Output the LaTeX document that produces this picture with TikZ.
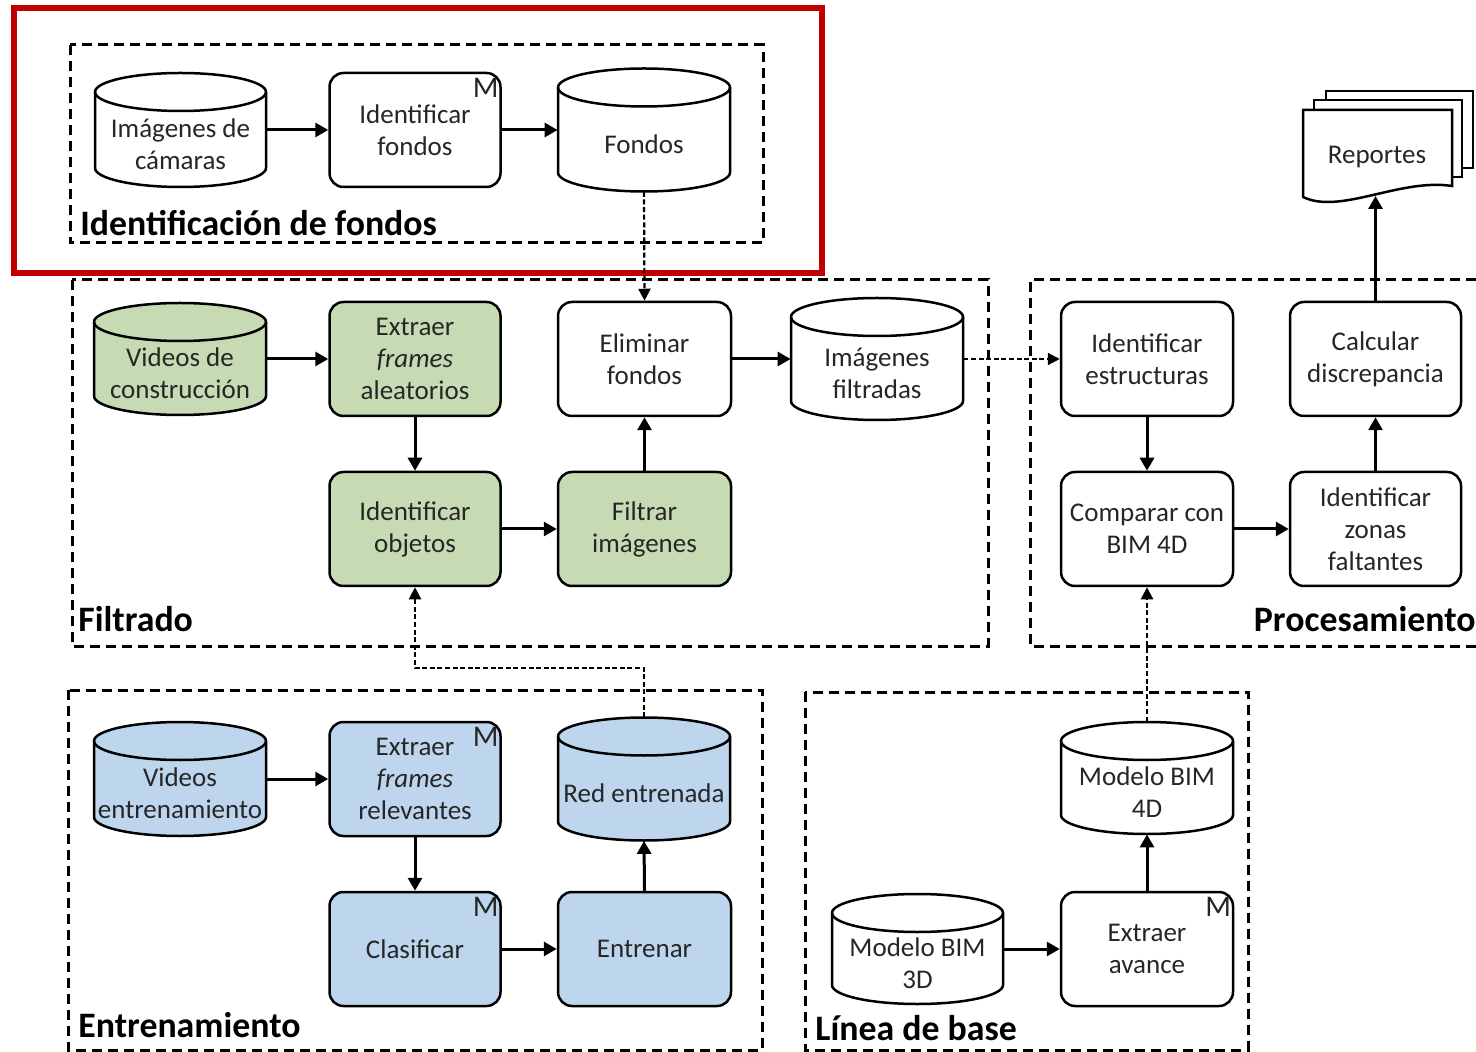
\documentclass[tikz,border=0pt]{standalone}
\usepackage{fontspec}
\setmainfont{Carlito}
\usetikzlibrary{arrows.meta}
\definecolor{grn}{HTML}{C6DBB4}
\definecolor{blu}{HTML}{BDD6EE}
\definecolor{redframe}{HTML}{C00000}
\definecolor{txt}{HTML}{262626}
\newcommand\mkcyl[7]{%
  \path[cylline,fill=#6] ({#2-#4/2},{#3-#5/2+19}) -- ({#2-#4/2},{#3+#5/2-19})
     arc[start angle=180,end angle=360,x radius=#4*0.25pt,y radius=9.5pt]
     -- ({#2+#4/2},{#3-#5/2+19})
     arc[start angle=0,end angle=180,x radius=#4*0.25pt,y radius=9.5pt] -- cycle;
  \draw[cylline] ({#2-#4/2},{#3-#5/2+19}) arc[start angle=180,end angle=360,x radius=#4*0.25pt,y radius=9.5pt];
  \node[cylshape,minimum width=#4*0.5pt,minimum height=#5*0.5pt] (#1) at (#2,#3) {};
  \node[txtsty] (#1-t) at (#2,{#3+14}) {#7};
}
\begin{document}
\begin{tikzpicture}[x=0.5pt,y=-0.5pt,
  txtsty/.style={align=center,font=\fontsize{13.5}{16}\selectfont,text=txt,inner sep=0pt},
  box/.style={txtsty,draw=black,line width=1.25pt,rounded corners=7pt,minimum width=85.5pt,minimum height=57pt},
  cylline/.style={draw=black,line width=1.25pt},
  cylshape/.style={draw=none,inner sep=0pt},
  mk/.style={font=\fontsize{15}{15}\selectfont,text=txt,inner sep=0pt},
  grp/.style={draw=black,line width=1.5pt,dash pattern=on 5pt off 3pt},
  grplabel/.style={font=\fontsize{17.9}{20}\bfseries\selectfont,text=black,inner sep=0pt},
  arr/.style={line width=1.5pt,-{Triangle[length=6.5pt,width=7pt]}},
  darr/.style={line width=1.1pt,dash pattern=on 2.5pt off 1.3pt,-{Triangle[length=6pt,width=6pt]}},
  doc/.style={draw=black,line width=1.25pt,fill=white}]
\useasboundingbox (0,0) rectangle (1476,1052);
\fill[white] (0,0) rectangle (1476,1052);

% ---------- group frames ----------
\draw[grp] (70,45) rectangle (763,243);
\draw[grp] (72,280) rectangle (988,646);
\draw[grp] (1476,280) -- (1030,280) -- (1030,646) -- (1476,646);
\draw[grp] (68,690) rectangle (762,1050);
\draw[grp] (805,692) rectangle (1248,1050);

\node[grplabel,anchor=base west] (l1) at (80,236) {Identificación de fondos};
\node[grplabel,anchor=base west] (l2) at (78,632) {Filtrado};
\node[grplabel,anchor=base east] (l3) at (1476,632) {Procesamiento};
\node[grplabel,anchor=base west] (l4) at (78,1037) {Entrenamiento};
\node[grplabel,anchor=base west] (l5) at (815,1040) {Línea de base};

% ---------- Identificación de fondos ----------
\mkcyl{cam}{180.5}{130}{171}{114}{white}{Imágenes de\\cámaras}
\node[box,fill=white] (idf) at (415,130) {Identificar\\fondos};
\node[mk] (idf-m) at ([xshift=-8pt,yshift=-8pt]idf.north east) {M};
\mkcyl{fon}{644}{130}{172}{123}{white}{Fondos}

% ---------- Filtrado ----------
\mkcyl{vcon}{180}{359}{172}{112}{grn}{Videos de\\construcción}
\node[box,fill=grn] (efa) at (415,359) {Extraer\\\textit{frames}\\aleatorios};
\node[box,fill=white,minimum width=86.5pt] (elim) at (644.5,359) {Eliminar\\fondos};
\mkcyl{ifil}{877}{359}{172}{122}{white}{Imágenes\\filtradas}
\node[box,fill=grn] (iobj) at (415,529) {Identificar\\objetos};
\node[box,fill=grn,minimum width=86.5pt] (filt) at (644.5,529) {Filtrar\\imágenes};

% ---------- Procesamiento ----------
\node[box,fill=white,minimum width=86pt] (iest) at (1147,359) {Identificar\\estructuras};
\node[box,fill=white] (calc) at (1375.5,359) {Calcular\\discrepancia};
\node[box,fill=white,minimum width=86pt] (comp) at (1147,529) {Comparar con\\BIM 4D};
\node[box,fill=white] (izon) at (1375.5,529) {Identificar\\zonas\\faltantes};

% ---------- Reportes ----------
\draw[doc] (1326,91) rectangle (1473,168);
\draw[doc] (1314,100) rectangle (1462,177);
\draw[doc] (1303,110) -- (1452,110) -- (1452,186) .. controls (1400,178) and (1340,215) .. (1303,197) -- cycle;
\node[txtsty] (rep) at (1377,157) {Reportes};
\coordinate (repin) at (1375.5,196);

% ---------- Entrenamiento ----------
\mkcyl{vent}{180}{779}{172}{114}{blu}{Videos\\entrenamiento}
\node[box,fill=blu] (efr) at (415,779) {Extraer\\\textit{frames}\\relevantes};
\node[mk] (efr-m) at ([xshift=-8pt,yshift=-8pt]efr.north east) {M};
\mkcyl{red}{644}{779}{172}{123}{blu}{Red entrenada}
\node[box,fill=blu] (clas) at (415,949) {Clasificar};
\node[mk] (clas-m) at ([xshift=-8pt,yshift=-8pt]clas.north east) {M};
\node[box,fill=blu,minimum width=86.5pt] (entr) at (644.5,949) {Entrenar};

% ---------- Línea de base ----------
\mkcyl{m4d}{1147}{778}{172}{112}{white}{Modelo BIM\\4D}
\mkcyl{m3d}{917.5}{949}{171}{110}{white}{Modelo BIM\\3D}
\node[box,fill=white,minimum width=86pt] (eav) at (1147,949) {Extraer\\avance};
\node[mk] (eav-m) at ([xshift=-8pt,yshift=-8pt]eav.north east) {M};

% ---------- red frame ----------
\draw[redframe,line width=3pt] (14,8) rectangle (822,273);

% ---------- connectors ----------
\draw[arr] (cam.east) -- (idf.west);
\draw[arr] (idf.east) -- (fon.west);
\draw[darr] (fon.south) -- (elim.north);

\draw[arr] (vcon.east) -- (efa.west);
\draw[arr] (efa.south) -- (iobj.north);
\draw[arr] (iobj.east) -- (filt.west);
\draw[arr] (filt.north) -- (elim.south);
\draw[arr] (elim.east) -- (ifil.west);
\draw[darr] (ifil.east) -- (iest.west);

\draw[arr] (iest.south) -- (comp.north);
\draw[arr] (comp.east) -- (izon.west);
\draw[arr] (izon.north) -- (calc.south);
\draw[arr] (calc.north) -- (repin);

\draw[arr] (vent.east) -- (efr.west);
\draw[arr] (efr.south) -- (clas.north);
\draw[arr] (clas.east) -- (entr.west);
\draw[arr] (entr.north) -- (red.south);
\coordinate (bend) at (644,668);
\draw[darr] (red.north) -- (bend) -| (iobj.south);

\draw[arr] (m3d.east) -- (eav.west);
\draw[arr] (eav.north) -- (m4d.south);
\draw[darr] (m4d.north) -- (comp.south);
\end{tikzpicture}
\end{document}
